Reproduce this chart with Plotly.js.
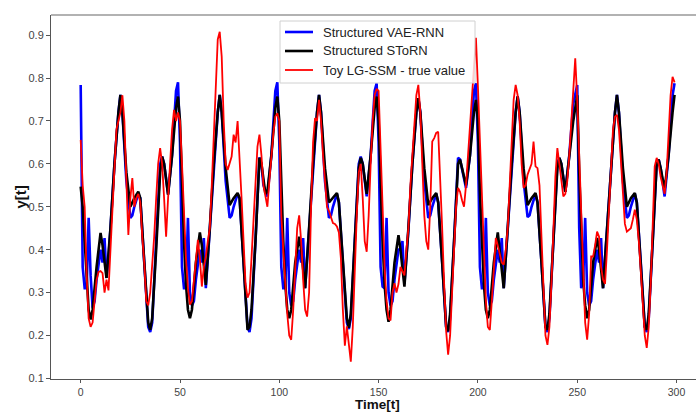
<!DOCTYPE html>
<html>
<head>
<meta charset="utf-8">
<script src="https://cdn.plot.ly/plotly-3.0.1.min.js"></script>
<style>html,body{margin:0;padding:0;background:#fff;}#chart{width:696px;height:412px;}</style>
</head>
<body>
<div id="chart"></div>
<script>
// ---- data ----
const seriesNames = ["Structured VAE-RNN", "Structured SToRN", "Toy LG-SSM - true value"];
const seriesColors = ["#0000ff", "#000000", "#ff0000"];

const tBlue = [
  0,1,2,3,4,5,6,7,8,10,11,12,13,14,15,17,19,20,21,23,25,26,27,29,30,32,34,35,36,38,40,41,42,44,46,48,49,
  50,51,52,53,54,55,56,57,58,60,61,62,63,64,65,67,69,70,71,73,75,76,77,79,80,82,84,85,86,88,90,91,92,94,96,98,99,
  100,101,102,103,104,105,106,107,108,110,111,112,113,114,115,117,119,120,121,123,125,126,127,129,130,132,134,135,136,138,140,141,142,144,146,148,149,
  150,151,152,153,154,155,156,157,158,160,161,162,163,164,165,167,169,170,171,173,175,176,177,179,180,182,184,185,186,188,190,191,192,194,196,198,199,
  200,201,202,203,204,205,206,207,208,210,211,212,213,214,215,217,219,220,221,223,225,226,227,229,230,232,234,235,236,238,240,241,242,244,246,248,249,
  250,251,252,253,254,255,256,257,258,260,261,262,263,264,265,267,269,270,271,273,275,276,277,279,280,282,284,285,286,288,290,291,292,294,296,298,299
];
const yBlue = [
  0.784,0.36,0.31,0.31,0.474,0.34,0.265,0.28,0.33,0.40,0.37,0.427,0.334,0.38,0.45,0.60,0.72,0.761,0.72,0.56,0.474,0.48,0.50,0.53,0.52,0.37,0.22,0.208,0.23,0.42,0.60,0.617,0.60,0.53,0.62,0.77,0.79,
  0.65,0.36,0.31,0.31,0.474,0.30,0.27,0.28,0.33,0.40,0.37,0.427,0.31,0.38,0.45,0.60,0.72,0.761,0.72,0.56,0.474,0.48,0.50,0.53,0.52,0.37,0.22,0.208,0.24,0.42,0.615,0.60,0.55,0.524,0.62,0.77,0.79,
  0.65,0.36,0.31,0.31,0.474,0.30,0.27,0.28,0.33,0.40,0.37,0.427,0.31,0.38,0.45,0.60,0.72,0.761,0.72,0.56,0.474,0.48,0.50,0.53,0.51,0.37,0.23,0.215,0.24,0.42,0.60,0.617,0.60,0.524,0.62,0.77,0.788,
  0.65,0.36,0.314,0.31,0.474,0.30,0.27,0.28,0.33,0.40,0.40,0.42,0.32,0.38,0.446,0.60,0.72,0.753,0.72,0.56,0.474,0.48,0.50,0.53,0.51,0.37,0.22,0.208,0.24,0.42,0.614,0.61,0.59,0.544,0.62,0.77,0.788,
  0.65,0.36,0.31,0.31,0.474,0.30,0.27,0.28,0.33,0.40,0.37,0.427,0.31,0.38,0.45,0.60,0.72,0.757,0.72,0.56,0.476,0.48,0.50,0.53,0.51,0.37,0.22,0.208,0.24,0.42,0.60,0.614,0.60,0.535,0.62,0.74,0.76,
  0.784,0.45,0.31,0.33,0.474,0.30,0.27,0.28,0.33,0.40,0.37,0.427,0.31,0.38,0.45,0.60,0.72,0.761,0.72,0.56,0.474,0.48,0.50,0.53,0.51,0.37,0.22,0.208,0.24,0.42,0.60,0.61,0.59,0.524,0.62,0.76,0.788
];

const tBlack = [
  0,1,2,3,4,5,6,8,10,11,13,15,17,19,20,21,23,25,27,29,30,32,34,35,36,38,40,41,42,44,46,48,49,
  50,51,52,53,54,55,56,58,60,61,63,65,67,69,70,71,73,75,77,79,80,82,84,85,86,88,90,91,93,94,96,98,99,
  100,101,102,103,104,105,106,108,110,111,113,115,117,119,120,121,123,125,127,129,130,132,134,135,136,138,140,141,142,144,146,148,149,
  150,151,152,153,154,155,156,158,160,161,163,165,167,169,170,171,173,175,177,179,180,182,184,185,186,188,190,191,192,194,196,198,199,
  200,201,202,203,204,205,206,208,210,211,213,215,217,219,220,221,223,225,227,229,230,232,234,235,236,238,240,241,242,244,246,248,249,
  250,251,252,253,254,255,256,258,260,261,263,265,267,269,270,271,273,275,277,279,280,282,284,285,286,288,290,291,292,294,296,298,299
];
const yBlack = [
  0.547,0.50,0.42,0.33,0.26,0.237,0.26,0.36,0.439,0.41,0.334,0.45,0.60,0.72,0.761,0.72,0.58,0.50,0.52,0.535,0.52,0.372,0.23,0.213,0.24,0.40,0.58,0.617,0.60,0.528,0.62,0.73,0.757,
  0.70,0.535,0.42,0.32,0.26,0.24,0.26,0.37,0.44,0.41,0.318,0.45,0.60,0.72,0.761,0.72,0.59,0.504,0.52,0.532,0.52,0.37,0.213,0.22,0.26,0.42,0.614,0.60,0.53,0.535,0.62,0.73,0.757,
  0.70,0.535,0.42,0.32,0.26,0.24,0.26,0.37,0.43,0.40,0.31,0.45,0.60,0.72,0.761,0.72,0.59,0.51,0.52,0.532,0.51,0.37,0.24,0.218,0.25,0.42,0.59,0.614,0.60,0.53,0.62,0.73,0.757,
  0.70,0.535,0.42,0.32,0.26,0.232,0.26,0.37,0.434,0.40,0.314,0.45,0.60,0.72,0.753,0.72,0.59,0.504,0.52,0.532,0.51,0.37,0.22,0.21,0.25,0.42,0.60,0.61,0.59,0.55,0.62,0.72,0.749,
  0.70,0.535,0.42,0.32,0.26,0.24,0.26,0.37,0.44,0.40,0.31,0.45,0.60,0.72,0.757,0.72,0.59,0.504,0.52,0.532,0.51,0.37,0.22,0.213,0.25,0.42,0.59,0.614,0.60,0.535,0.62,0.70,0.73,
  0.76,0.58,0.44,0.33,0.27,0.24,0.26,0.37,0.427,0.40,0.31,0.45,0.60,0.72,0.761,0.72,0.59,0.50,0.52,0.532,0.51,0.37,0.22,0.213,0.25,0.42,0.60,0.61,0.59,0.54,0.62,0.72,0.761
];

// true value, one reading per time step t = 0..299
const yRed = [
  0.656,0.55,0.50,0.34,0.24,0.22,0.23,0.28,0.33,0.348,
  0.35,0.345,0.30,0.33,0.305,0.40,0.50,0.60,0.68,0.70,
  0.72,0.76,0.70,0.56,0.434,0.52,0.567,0.50,0.52,0.53,
  0.51,0.43,0.37,0.28,0.27,0.30,0.36,0.43,0.52,0.60,
  0.637,0.60,0.52,0.43,0.52,0.60,0.68,0.726,0.70,0.72,
  0.70,0.60,0.48,0.38,0.31,0.272,0.28,0.33,0.39,0.423,
  0.38,0.314,0.36,0.384,0.42,0.45,0.55,0.67,0.80,0.89,
  0.908,0.85,0.70,0.60,0.586,0.60,0.617,0.668,0.65,0.70,
  0.62,0.52,0.42,0.32,0.288,0.30,0.38,0.47,0.56,0.64,
  0.668,0.62,0.55,0.52,0.50,0.56,0.62,0.67,0.71,0.718,
  0.70,0.48,0.40,0.32,0.25,0.20,0.19,0.26,0.36,0.45,
  0.48,0.42,0.33,0.26,0.244,0.30,0.50,0.65,0.707,0.70,
  0.749,0.70,0.62,0.55,0.50,0.49,0.477,0.462,0.46,0.454,
  0.44,0.38,0.26,0.176,0.221,0.18,0.139,0.22,0.36,0.48,
  0.58,0.60,0.52,0.42,0.395,0.48,0.60,0.70,0.76,0.775,
  0.77,0.65,0.50,0.36,0.28,0.24,0.235,0.30,0.322,0.30,
  0.32,0.36,0.35,0.34,0.40,0.45,0.55,0.63,0.70,0.76,
  0.784,0.72,0.60,0.48,0.42,0.40,0.50,0.652,0.66,0.672,
  0.675,0.58,0.45,0.32,0.21,0.155,0.20,0.30,0.40,0.50,
  0.544,0.535,0.515,0.50,0.55,0.62,0.70,0.78,0.85,0.894,
  0.78,0.65,0.50,0.38,0.28,0.22,0.213,0.28,0.36,0.427,
  0.41,0.388,0.37,0.365,0.40,0.45,0.56,0.67,0.75,0.784,
  0.76,0.70,0.60,0.544,0.55,0.575,0.586,0.60,0.652,0.594,
  0.59,0.55,0.43,0.30,0.20,0.178,0.22,0.32,0.45,0.57,
  0.637,0.60,0.55,0.524,0.53,0.56,0.62,0.70,0.78,0.846,
  0.75,0.62,0.47,0.33,0.23,0.19,0.25,0.384,0.384,0.41,
  0.442,0.43,0.36,0.33,0.32,0.40,0.50,0.60,0.68,0.71,
  0.714,0.68,0.60,0.52,0.46,0.442,0.445,0.45,0.47,0.493,
  0.47,0.42,0.35,0.27,0.20,0.171,0.22,0.32,0.45,0.594,
  0.614,0.60,0.57,0.55,0.53,0.58,0.68,0.76,0.803,0.79
];
const tRed = yRed.map((v, i) => i);

const xTickVals = [0, 50, 100, 150, 200, 250, 300];
const yTickVals = [0.1, 0.2, 0.3, 0.4, 0.5, 0.6, 0.7, 0.8, 0.9];
const yTickText = ["0.1", "0.2", "0.3", "0.4", "0.5", "0.6", "0.7", "0.8", "0.9"];
const xTitle = "Time[t]";
const yTitle = "y[t]";

// ---- chart ----
const FONT = "Liberation Sans, Arial, sans-serif";
const W = 696, H = 412, ML = 51, MR = 0, MT = 15, MB = 33;
const PW = W - ML - MR, PH = H - MT - MB;
const px = v => (v - ML) / PW;          // pixel x -> paper x
const py = v => 1 - (v - MT) / PH;      // pixel y -> paper y

const widths = [2.6, 2.6, 1.8];
const traces = [
  {x: tBlue, y: yBlue, name: seriesNames[0], mode: "lines", line: {color: seriesColors[0], width: widths[0]}},
  {x: tBlack, y: yBlack, name: seriesNames[1], mode: "lines", line: {color: seriesColors[1], width: widths[1]}},
  {x: tRed, y: yRed, name: seriesNames[2], mode: "lines", line: {color: seriesColors[2], width: widths[2]}}
];

// legend drawn by hand (matplotlib-like box)
const legRows = [32, 51, 70];
const shapes = [
  {type: "line", xref: "paper", yref: "paper", x0: 0, x1: 1, y0: 1, y1: 1,
   line: {color: "#999", width: 1.5}},
  {type: "rect", xref: "paper", yref: "paper", layer: "above",
   x0: px(280), x1: px(475), y0: py(83), y1: py(21),
   fillcolor: "rgba(255,255,255,0.8)", line: {color: "#d0d0d0", width: 1}}
];
const annotations = [
  {text: "<b>" + xTitle + "</b>", xref: "paper", yref: "paper",
   x: px(377), y: py(404), xanchor: "center", yanchor: "middle",
   showarrow: false, font: {family: FONT, size: 13.5, color: "#111"}},
  {text: "<b>" + yTitle + "</b>", xref: "paper", yref: "paper",
   x: px(19.5), y: 0.5, xanchor: "center", yanchor: "middle", textangle: -90,
   showarrow: false, font: {family: FONT, size: 15, color: "#111"}}
];
seriesNames.forEach((name, i) => {
  shapes.push({type: "line", xref: "paper", yref: "paper", layer: "above",
    x0: px(285), x1: px(313), y0: py(legRows[i]), y1: py(legRows[i]),
    line: {color: seriesColors[i], width: widths[i]}});
  annotations.push({text: name, xref: "paper", yref: "paper",
    x: px(321), y: py(legRows[i]), xanchor: "left", yanchor: "middle",
    showarrow: false, font: {family: FONT, size: 13, color: "#222"}});
});

const layout = {
  width: W, height: H,
  margin: {l: ML, r: MR, t: MT, b: MB, pad: 0},
  paper_bgcolor: "#ffffff", plot_bgcolor: "#ffffff",
  showlegend: false,
  xaxis: {
    range: [-14.95, 309.8], tickvals: xTickVals,
    ticks: "outside", ticklen: 3, tickcolor: "#555", tickwidth: 1,
    showline: true, linecolor: "#555", linewidth: 1,
    showgrid: false, zeroline: false,
    tickfont: {family: FONT, size: 10.5, color: "#444"}
  },
  yaxis: {
    range: [0.0985, 0.947], tickvals: yTickVals, ticktext: yTickText,
    ticks: "outside", ticklen: 4, tickcolor: "#555", tickwidth: 1,
    showline: true, linecolor: "#555", linewidth: 1,
    showgrid: false, zeroline: false,
    tickfont: {family: FONT, size: 11, color: "#444"}
  },
  shapes: shapes,
  annotations: annotations
};

Plotly.newPlot("chart", traces, layout, {staticPlot: true, displayModeBar: false});
</script>
</body>
</html>
